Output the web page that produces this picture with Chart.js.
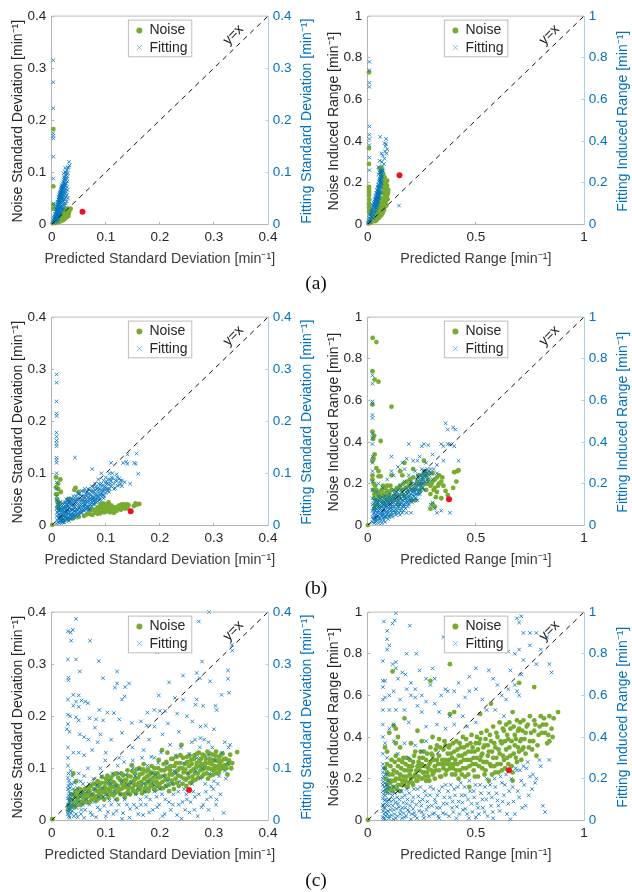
<!DOCTYPE html>
<html>
<head>
<meta charset="utf-8">
<script src="https://cdn.jsdelivr.net/npm/chart.js@4/dist/chart.umd.js"></script>
<style>
  body { margin: 0; background: #fff; }
  #page { position: relative; width: 632px; height: 892px; overflow: hidden; }
  canvas { position: absolute; }
  .caption { position: absolute; left: 0; width: 632px; text-align: center; font: 19.5px "Liberation Serif", serif; color: #111; }
</style>
</head>
<body>
<div id="page">
  <canvas id="c1" width="316" height="290" style="left:0;top:0"></canvas>
  <canvas id="c2" width="316" height="290" style="left:316px;top:0"></canvas>
  <canvas id="c3" width="316" height="290" style="left:0;top:301.4px"></canvas>
  <canvas id="c4" width="316" height="290" style="left:316px;top:301.4px"></canvas>
  <canvas id="c5" width="316" height="290" style="left:0;top:596.4px"></canvas>
  <canvas id="c6" width="316" height="290" style="left:316px;top:596.4px"></canvas>
  <div class="caption" style="top:272px">(a)</div>
  <div class="caption" style="top:577px">(b)</div>
  <div class="caption" style="top:869px">(c)</div>
</div>
<script>
/*******************
 * DATA
 ******************/
const sdTicks = [0, 0.1, 0.2, 0.3, 0.4];
const rangeXTicks = [0, 0.5, 1];
const rangeYTicks = [0, 0.2, 0.4, 0.6, 0.8, 1];

const redA1 = [[.057,.024]];
const redA2 = [[.147,.235]];
const redB1 = [[.146,.027]];
const redB2 = [[.376,.125]];
const redC1 = [[.254,.058]];
const redC2 = [[.653,.24]];

const noiseA1 = [[.003,.183],[.003,.073],[.003,.037],[.003,.03],[.002,.002],[.005,.004],[.006,.008],[.008,.003],[.009,.006],[.01,.011],[.011,.004],[.012,.008],[.013,.012],[.014,.005],[.015,.009],[.015,.015],[.016,.006],[.017,.012],[.018,.018],[.018,.007],[.019,.01],[.02,.015],[.02,.022],[.021,.008],[.022,.012],[.022,.019],[.023,.026],[.024,.01],[.024,.016],[.025,.022],[.026,.013],[.026,.028],[.027,.018],[.028,.024],[.028,.014],[.029,.03],[.03,.02],[.03,.026],[.031,.016],[.032,.022],[.033,.027],[.035,.03]];
const fitA1 = [[.003,.315],[.003,.273],[.003,.223],[.003,.175],[.003,.17],[.003,.165],[.003,.13],[.003,.088],[.003,.04],[.002,.004],[.003,.008],[.004,.003],[.004,.012],[.005,.007],[.005,.016],[.006,.01],[.006,.02],[.007,.006],[.007,.014],[.007,.025],[.008,.011],[.008,.019],[.008,.03],[.009,.015],[.009,.024],[.009,.034],[.01,.012],[.01,.02],[.01,.028],[.01,.038],[.011,.017],[.011,.026],[.011,.033],[.011,.043],[.012,.022],[.012,.03],[.012,.038],[.012,.047],[.013,.027],[.013,.035],[.013,.043],[.013,.052],[.014,.032],[.014,.04],[.014,.048],[.014,.056],[.015,.03],[.015,.037],[.015,.045],[.015,.053],[.015,.06],[.016,.042],[.016,.05],[.016,.058],[.016,.064],[.017,.046],[.017,.055],[.017,.062],[.017,.068],[.018,.05],[.018,.06],[.018,.066],[.018,.072],[.019,.055],[.019,.064],[.019,.07],[.02,.06],[.02,.068],[.02,.074],[.021,.065],[.021,.072],[.022,.07],[.021,.03],[.023,.04],[.022,.082],[.023,.09],[.022,.098],[.024,.088],[.025,.1],[.026,.085],[.027,.094],[.028,.088],[.028,.104],[.029,.092],[.03,.098],[.031,.11],[.032,.12],[.033,.113],[.03,.108],[.005,.012],[.006,.014],[.007,.019],[.008,.024],[.009,.029],[.01,.033],[.011,.038],[.012,.042],[.013,.047],[.014,.052],[.015,.056],[.016,.054],[.017,.05],[.017,.059],[.018,.055],[.019,.06],[.02,.065],[.019,.075],[.02,.07],[.021,.078],[.022,.075],[.023,.08],[.012,.018],[.013,.022],[.014,.027],[.016,.034],[.017,.04],[.018,.044],[.019,.048],[.02,.053],[.021,.058],[.022,.063],[.01,.008],[.008,.007],[.006,.005],[.024,.078],[.024,.092],[.026,.095],[.027,.1],[.025,.108],[.023,.085],[.012,.012],[.014,.016],[.016,.02],[.018,.024],[.02,.028],[.022,.032],[.024,.036],[.026,.04],[.028,.044],[.016,.028],[.018,.034],[.02,.038],[.022,.044],[.024,.048],[.026,.052],[.028,.056],[.03,.05],[.019,.042],[.021,.048],[.023,.054],[.025,.058],[.027,.062],[.029,.066],[.024,.064],[.026,.068],[.028,.072],[.025,.074],[.027,.078],[.029,.082],[.023,.07],[.015,.022],[.017,.03],[.013,.018],[.011,.01],[.009,.008]];

const noiseA2 = [[.006,.73],[.006,.365],[.006,.29],[.006,.18],[.006,.17],[.006,.16],[.006,.15],[.006,.14],[.006,.1],[.006,.08],[.006,.06],[.004,.004],[.012,.012],[.018,.01],[.022,.03],[.027,.018],[.03,.04],[.033,.026],[.036,.06],[.04,.036],[.042,.075],[.045,.05],[.047,.1],[.05,.03],[.05,.068],[.053,.09],[.055,.27],[.056,.125],[.058,.05],[.06,.075],[.062,.255],[.062,.105],[.065,.15],[.066,.06],[.068,.23],[.07,.09],[.072,.125],[.074,.2],[.076,.07],[.078,.16],[.08,.105],[.082,.135],[.083,.185],[.086,.09],[.088,.15],[.09,.21],[.092,.12],[.095,.165],[.078,.145],[.07,.18],[.035,.015],[.04,.02],[.045,.03],[.05,.045],[.055,.035],[.06,.055],[.064,.045],[.068,.07],[.07,.055],[.072,.08],[.074,.095],[.076,.115],[.078,.085],[.08,.13],[.082,.1],[.084,.155],[.085,.115],[.086,.175],[.088,.125],[.09,.14],[.09,.185],[.092,.16],[.094,.15],[.08,.195],[.075,.17],[.07,.215],[.066,.245],[.072,.24],[.078,.225],[.085,.2],[.06,.27],[.065,.265],[.007,.12],[.007,.09],[.009,.07],[.01,.05]];
const fitA2 = [[.008,.78],[.008,.74],[.008,.68],[.008,.66],[.008,.47],[.008,.43],[.008,.41],[.008,.38],[.008,.32],[.008,.26],[.145,.09],[.003,.006],[.006,.018],[.008,.03],[.01,.012],[.012,.045],[.014,.024],[.016,.06],[.018,.036],[.02,.075],[.022,.05],[.024,.09],[.025,.03],[.026,.065],[.028,.105],[.03,.045],[.03,.08],[.032,.12],[.034,.06],[.034,.095],[.036,.135],[.037,.08],[.038,.11],[.04,.15],[.04,.065],[.041,.095],[.042,.125],[.043,.165],[.044,.08],[.045,.11],[.045,.14],[.046,.18],[.047,.095],[.048,.125],[.048,.155],[.049,.19],[.05,.11],[.05,.14],[.051,.17],[.052,.205],[.053,.125],[.053,.155],[.054,.185],[.055,.22],[.056,.14],[.056,.2],[.058,.17],[.058,.235],[.06,.155],[.06,.21],[.062,.185],[.062,.25],[.064,.225],[.065,.3],[.068,.26],[.05,.275],[.055,.305],[.058,.42],[.063,.34],[.07,.33],[.072,.255],[.075,.29],[.078,.315],[.08,.35],[.082,.375],[.085,.385],[.085,.41],[.088,.34],[.09,.36],[.078,.39],[.005,.01],[.009,.02],[.012,.028],[.015,.04],[.018,.05],[.02,.06],[.022,.07],[.024,.07],[.026,.085],[.028,.09],[.03,.1],[.032,.095],[.033,.11],[.035,.12],[.036,.1],[.038,.13],[.039,.09],[.04,.12],[.041,.14],[.042,.105],[.043,.15],[.044,.13],[.045,.16],[.046,.12],[.047,.15],[.048,.175],[.049,.135],[.05,.16],[.051,.19],[.052,.145],[.053,.175],[.054,.21],[.055,.16],[.056,.185],[.057,.215],[.058,.2],[.059,.18],[.06,.23],[.06,.25],[.061,.195],[.062,.22],[.063,.24],[.065,.2],[.065,.255],[.067,.23],[.058,.26],[.054,.25],[.05,.24],[.068,.28]];

const noiseB1 = [[.001,.001],[.008,.092],[.016,.088],[.008,.073],[.012,.07],[.017,.064],[.008,.06],[.012,.044],[.016,.042],[.044,.072],[.042,.068],[.05,.064],[.03,.05],[.02,.01],[.03,.012],[.04,.014],[.05,.016],[.06,.018],[.065,.021],[.07,.022],[.075,.02],[.08,.024],[.085,.022],[.088,.027],[.09,.023],[.095,.03],[.097,.025],[.1,.032],[.103,.028],[.105,.036],[.108,.025],[.11,.031],[.113,.035],[.115,.024],[.118,.03],[.12,.034],[.123,.036],[.125,.032],[.128,.038],[.13,.04],[.132,.034],[.135,.04],[.138,.036],[.14,.033],[.142,.038],[.152,.037],[.155,.042],[.158,.04],[.162,.041],[.09,.04],[.095,.042],[.1,.04],[.105,.044],[.07,.028],[.075,.03],[.08,.03],[.085,.034],[.09,.034],[.095,.036],[.1,.026],[.102,.035],[.106,.03],[.11,.038],[.112,.028],[.116,.034],[.12,.028],[.125,.038],[.128,.03],[.133,.038],[.136,.032],[.14,.04],[.01,.05],[.011,.035],[.014,.03],[.012,.08],[.01,.06]];
const fitB1 = [[.009,.29],[.009,.274],[.009,.238],[.009,.215],[.009,.21],[.009,.178],[.009,.17],[.009,.163],[.009,.157],[.009,.152],[.009,.13],[.009,.125],[.009,.12],[.009,.1],[.009,.082],[.009,.07],[.009,.056],[.009,.048],[.01,.04],[.009,.032],[.01,.025],[.009,.018],[.01,.01],[.009,.003],[.012,.034],[.013,.022],[.014,.012],[.014,.004],[.016,.028],[.016,.038],[.018,.018],[.018,.008],[.019,.03],[.021,.024],[.021,.012],[.022,.04],[.023,.005],[.024,.032],[.025,.018],[.026,.01],[.026,.044],[.028,.026],[.028,.036],[.03,.015],[.03,.048],[.032,.008],[.032,.028],[.034,.04],[.034,.02],[.036,.052],[.036,.012],[.038,.03],[.04,.044],[.04,.02],[.042,.036],[.043,.13],[.044,.014],[.045,.026],[.046,.05],[.048,.04],[.05,.02],[.05,.06],[.052,.032],[.054,.046],[.055,.024],[.056,.056],[.058,.036],[.06,.028],[.06,.066],[.062,.046],[.064,.056],[.065,.036],[.067,.07],[.068,.03],[.07,.05],[.071,.06],[.072,.04],[.074,.075],[.075,.108],[.076,.05],[.078,.064],[.08,.04],[.08,.08],[.082,.056],[.084,.07],[.085,.046],[.086,.088],[.088,.06],[.09,.078],[.09,.05],[.092,.1],[.094,.07],[.095,.058],[.096,.086],[.098,.075],[.1,.092],[.1,.062],[.103,.08],[.105,.07],[.107,.1],[.108,.088],[.11,.075],[.11,.12],[.113,.09],[.115,.07],[.118,.086],[.12,.098],[.122,.076],[.125,.09],[.128,.08],[.13,.086],[.132,.12],[.135,.083],[.138,.122],[.14,.118],[.14,.136],[.145,.08],[.155,.118],[.153,.12],[.157,.138],[.16,.099],[.011,.006],[.012,.015],[.011,.025],[.012,.045],[.013,.03],[.013,.04],[.014,.02],[.015,.008],[.015,.033],[.016,.014],[.016,.045],[.017,.024],[.018,.036],[.019,.006],[.019,.014],[.02,.03],[.02,.042],[.021,.006],[.021,.018],[.022,.012],[.022,.028],[.023,.035],[.023,.021],[.024,.008],[.024,.044],[.025,.028],[.026,.016],[.026,.036],[.027,.022],[.027,.05],[.028,.012],[.028,.042],[.029,.03],[.03,.022],[.03,.037],[.031,.044],[.031,.014],[.032,.034],[.032,.052],[.033,.024],[.034,.012],[.034,.046],[.035,.03],[.036,.038],[.036,.02],[.037,.05],[.038,.014],[.038,.024],[.039,.042],[.04,.03],[.04,.056],[.041,.02],[.042,.048],[.043,.028],[.044,.04],[.044,.018],[.045,.056],[.046,.032],[.047,.022],[.047,.044],[.048,.062],[.049,.03],[.05,.038],[.05,.05],[.051,.024],[.052,.044],[.053,.058],[.054,.03],[.055,.04],[.056,.026],[.056,.066],[.057,.05],[.058,.03],[.059,.044],[.06,.036],[.06,.056],[.061,.07],[.062,.03],[.063,.04],[.064,.05],[.065,.064],[.066,.032],[.066,.044],[.068,.054],[.069,.038],[.07,.068],[.07,.03],[.072,.048],[.073,.058],[.074,.036],[.075,.044],[.076,.066],[.077,.04],[.078,.054],[.08,.048],[.08,.068],[.082,.044],[.083,.06],[.084,.05],[.086,.072],[.087,.054],[.088,.048],[.09,.066],[.092,.056],[.092,.08],[.094,.062],[.096,.052],[.098,.068],[.1,.08],[.102,.07],[.104,.088],[.106,.064],[.11,.085],[.112,.1],[.115,.08],[.12,.085],[.125,.078],[.13,.075],[.015,.018],[.017,.01],[.017,.034],[.02,.02],[.022,.034],[.024,.024],[.027,.014],[.029,.04],[.03,.03],[.031,.022],[.033,.034],[.033,.044],[.035,.016],[.035,.044],[.037,.03],[.039,.02],[.04,.038],[.041,.05],[.042,.026],[.043,.034],[.045,.02],[.045,.046],[.047,.03],[.048,.05],[.049,.024],[.051,.034],[.052,.052],[.053,.038],[.054,.024],[.055,.05],[.057,.038],[.058,.046],[.059,.03],[.061,.04],[.061,.052],[.063,.034],[.063,.06],[.065,.046],[.067,.036],[.067,.06],[.069,.046],[.071,.034],[.071,.052],[.073,.042],[.073,.066],[.075,.054],[.077,.048],[.077,.074],[.079,.044],[.079,.06],[.081,.05],[.082,.074],[.085,.056],[.085,.066],[.087,.08],[.089,.05],[.089,.07],[.091,.06],[.093,.076],[.095,.066],[.097,.056],[.099,.072],[.101,.084],[.103,.066],[.105,.078],[.107,.07],[.109,.08],[.111,.092],[.117,.072],[.121,.092],[.127,.086]];

const noiseB2 = [[.001,.001],[.023,.9],[.04,.88],[.022,.74],[.032,.7],[.05,.69],[.11,.57],[.022,.58],[.022,.45],[.03,.43],[.025,.415],[.06,.405],[.032,.34],[.027,.32],[.022,.31],[.04,.275],[.05,.26],[.022,.24],[.022,.22],[.028,.2],[.025,.17],[.05,.235],[.06,.235],[.035,.19],[.07,.19],[.045,.15],[.08,.155],[.09,.19],[.1,.16],[.11,.24],[.12,.14],[.135,.18],[.15,.26],[.16,.24],[.17,.3],[.19,.19],[.195,.22],[.21,.27],[.215,.17],[.23,.21],[.25,.24],[.26,.31],[.27,.17],[.28,.22],[.29,.15],[.295,.2],[.3,.25],[.31,.18],[.315,.135],[.32,.16],[.33,.2],[.34,.13],[.345,.23],[.36,.165],[.37,.145],[.395,.18],[.4,.255],[.41,.21],[.42,.265],[.415,.26],[.03,.13],[.04,.11],[.05,.09],[.06,.12],[.07,.14],[.08,.1],[.09,.14],[.12,.12],[.14,.1],[.16,.17],[.17,.14],[.2,.12],[.22,.12],[.24,.16],[.26,.2],[.27,.24],[.29,.08],[.3,.1],[.32,.23],[.31,.09],[.03,.08],[.03,.15],[.035,.1],[.04,.17],[.045,.12],[.05,.14],[.055,.16],[.06,.145],[.065,.17],[.07,.11],[.075,.15],[.08,.18],[.085,.13],[.09,.165],[.095,.12],[.1,.14],[.105,.19],[.11,.17],[.115,.125],[.125,.165],[.13,.15],[.14,.175],[.145,.13],[.15,.19],[.16,.15],[.165,.2],[.175,.18],[.18,.21],[.185,.16],[.2,.2],[.205,.17],[.21,.23],[.225,.19],[.235,.24],[.24,.2],[.25,.18],[.255,.22],[.265,.26],[.275,.2],[.285,.25],[.29,.19],[.3,.21],[.305,.17],[.31,.22],[.325,.19],[.33,.24],[.34,.21],[.35,.19]];
const fitB2 = [[.022,.72],[.022,.68],[.022,.595],[.022,.585],[.022,.53],[.022,.515],[.022,.44],[.022,.42],[.022,.39],[.022,.33],[.022,.3],[.022,.26],[.022,.21],[.022,.17],[.022,.13],[.022,.1],[.022,.07],[.022,.04],[.022,.015],[.03,.12],[.03,.09],[.03,.06],[.03,.03],[.03,.01],[.04,.12],[.04,.08],[.04,.05],[.04,.02],[.05,.14],[.05,.1],[.05,.07],[.05,.035],[.05,.01],[.06,.11],[.06,.08],[.06,.05],[.06,.02],[.07,.12],[.07,.09],[.07,.06],[.07,.035],[.08,.14],[.08,.105],[.08,.07],[.08,.04],[.08,.015],[.09,.12],[.09,.09],[.09,.055],[.1,.15],[.1,.11],[.1,.075],[.1,.04],[.11,.13],[.11,.09],[.11,.06],[.11,.33],[.12,.17],[.12,.11],[.12,.07],[.12,.24],[.13,.14],[.13,.1],[.13,.05],[.14,.17],[.14,.12],[.14,.08],[.15,.19],[.15,.14],[.15,.1],[.15,.05],[.16,.16],[.16,.12],[.16,.06],[.17,.21],[.17,.14],[.17,.09],[.18,.18],[.18,.13],[.18,.06],[.19,.39],[.19,.24],[.19,.16],[.19,.1],[.2,.21],[.2,.15],[.2,.06],[.21,.31],[.21,.18],[.21,.12],[.22,.26],[.22,.2],[.22,.15],[.23,.31],[.23,.24],[.23,.17],[.23,.12],[.24,.22],[.24,.15],[.25,.38],[.25,.27],[.25,.2],[.26,.39],[.26,.25],[.26,.17],[.27,.24],[.27,.3],[.28,.385],[.28,.21],[.29,.1],[.29,.27],[.3,.22],[.31,.08],[.32,.29],[.32,.25],[.34,.39],[.35,.38],[.35,.31],[.36,.49],[.37,.46],[.37,.39],[.38,.39],[.38,.06],[.395,.47],[.4,.38],[.405,.46],[.42,.31],[.025,.03],[.026,.055],[.027,.08],[.028,.105],[.035,.015],[.035,.045],[.035,.07],[.036,.095],[.037,.125],[.045,.025],[.045,.06],[.045,.085],[.046,.11],[.055,.035],[.055,.065],[.055,.095],[.056,.13],[.065,.01],[.065,.045],[.065,.075],[.066,.105],[.067,.135],[.075,.025],[.075,.055],[.075,.08],[.076,.11],[.085,.04],[.085,.065],[.085,.09],[.086,.125],[.095,.03],[.095,.06],[.095,.085],[.096,.105],[.097,.135],[.105,.05],[.105,.08],[.105,.1],[.106,.125],[.115,.04],[.115,.075],[.115,.105],[.116,.145],[.125,.06],[.125,.09],[.125,.125],[.126,.15],[.135,.07],[.135,.11],[.135,.13],[.136,.16],[.145,.06],[.145,.09],[.145,.115],[.146,.15],[.155,.08],[.155,.105],[.155,.13],[.156,.17],[.165,.07],[.165,.1],[.165,.12],[.166,.15],[.175,.08],[.175,.11],[.176,.13],[.177,.16],[.185,.09],[.185,.115],[.186,.14],[.187,.17],[.195,.12],[.195,.14],[.196,.18],[.205,.11],[.205,.13],[.206,.16],[.207,.19],[.215,.14],[.216,.16],[.217,.2],[.225,.13],[.226,.17],[.227,.22],[.235,.15],[.236,.19],[.237,.23],[.245,.17],[.246,.21],[.247,.24],[.255,.18],[.256,.23],[.257,.26],[.265,.21],[.266,.26],[.275,.22],[.276,.27],[.285,.24],[.295,.25],[.3,.11],[.305,.27],[.17,.27],[.14,.28],[.11,.26],[.16,.3],[.24,.33],[.3,.34],[.32,.06],[.34,.07],[.18,.32],[.07,.18],[.09,.22],[.05,.2],[.04,.16],[.033,.04],[.034,.085],[.038,.03],[.042,.065],[.043,.1],[.048,.045],[.052,.08],[.053,.115],[.058,.03],[.059,.06],[.063,.09],[.068,.05],[.072,.07],[.073,.1],[.078,.04],[.082,.085],[.083,.12],[.088,.05],[.092,.07],[.093,.105],[.098,.045],[.102,.09],[.103,.12],[.108,.07],[.112,.11],[.113,.05],[.118,.09],[.122,.13],[.128,.075],[.132,.12],[.133,.06],[.138,.09],[.142,.14],[.148,.1],[.152,.07],[.158,.12],[.162,.09],[.168,.14],[.172,.1],[.178,.12],[.182,.15],[.188,.105],[.192,.13],[.198,.17],[.202,.12],[.208,.145],[.212,.17],[.218,.13],[.222,.18],[.228,.15],[.232,.2],[.238,.17],[.242,.2],[.248,.19],[.252,.22],[.258,.2],[.262,.24],[.268,.23],[.272,.25],[.282,.26]];

const noiseC1 = [[.001,.002],[.04,.09],[.045,.075],[.03,.02],[.032,.03],[.034,.04],[.036,.05],[.038,.028],[.04,.036],[.042,.046],[.044,.056],[.046,.03],[.048,.042],[.05,.05],[.052,.06],[.054,.036],[.056,.046],[.058,.055],[.06,.04],[.062,.05],[.064,.062],[.066,.034],[.068,.046],[.07,.056],[.072,.066],[.074,.04],[.076,.05],[.078,.06],[.08,.07],[.082,.046],[.084,.056],[.086,.066],[.088,.05],[.09,.06],[.092,.072],[.094,.044],[.096,.054],[.098,.064],[.1,.08],[.102,.05],[.104,.06],[.106,.07],[.108,.056],[.11,.082],[.112,.064],[.114,.048],[.116,.072],[.118,.058],[.12,.09],[.122,.066],[.124,.054],[.126,.078],[.128,.06],[.13,.07],[.132,.086],[.134,.05],[.136,.064],[.138,.078],[.14,.096],[.142,.058],[.144,.07],[.146,.084],[.148,.106],[.15,.062],[.152,.076],[.154,.09],[.156,.052],[.158,.068],[.16,.082],[.162,.1],[.164,.06],[.166,.074],[.168,.09],[.17,.108],[.172,.056],[.174,.07],[.176,.084],[.178,.098],[.18,.062],[.182,.078],[.184,.092],[.186,.066],[.188,.082],[.19,.1],[.192,.058],[.194,.074],[.196,.09],[.198,.116],[.2,.07],[.202,.084],[.204,.135],[.206,.062],[.208,.096],[.21,.078],[.212,.112],[.214,.13],[.216,.068],[.218,.088],[.22,.104],[.222,.076],[.224,.118],[.226,.06],[.228,.092],[.23,.11],[.232,.072],[.234,.086],[.236,.1],[.238,.125],[.24,.145],[.242,.07],[.244,.092],[.246,.108],[.248,.078],[.25,.122],[.252,.09],[.254,.104],[.256,.072],[.258,.116],[.26,.084],[.262,.098],[.264,.125],[.266,.078],[.268,.11],[.27,.09],[.272,.13],[.274,.104],[.276,.118],[.278,.084],[.28,.098],[.282,.124],[.284,.11],[.286,.09],[.288,.132],[.29,.1],[.292,.118],[.294,.086],[.296,.108],[.298,.126],[.3,.096],[.302,.115],[.304,.132],[.306,.09],[.308,.104],[.31,.122],[.312,.098],[.314,.114],[.316,.128],[.318,.1],[.32,.106],[.322,.118],[.325,.088],[.328,.115],[.33,.126],[.334,.11],[.343,.131],[.033,.024],[.037,.038],[.041,.025],[.043,.052],[.047,.038],[.049,.058],[.053,.029],[.055,.054],[.059,.034],[.061,.06],[.063,.042],[.067,.052],[.069,.064],[.071,.036],[.073,.048],[.077,.07],[.079,.043],[.081,.058],[.083,.038],[.085,.075],[.087,.042],[.089,.07],[.091,.052],[.093,.083],[.095,.06],[.097,.04],[.099,.072],[.101,.058],[.103,.086],[.105,.044],[.107,.078],[.109,.064],[.111,.05],[.113,.074],[.115,.088],[.117,.052],[.119,.067],[.121,.04],[.123,.082],[.125,.06],[.127,.05],[.129,.09],[.131,.062],[.133,.076],[.135,.044],[.137,.07],[.139,.052],[.141,.086],[.143,.064],[.145,.05],[.147,.074],[.149,.094],[.151,.056],[.153,.068],[.155,.08],[.157,.098],[.159,.058],[.161,.072],[.163,.088],[.165,.066],[.167,.052],[.169,.098],[.171,.08],[.173,.062],[.175,.094],[.177,.074],[.179,.056],[.181,.088],[.183,.068],[.185,.104],[.187,.074],[.189,.06],[.191,.09],[.193,.082],[.195,.066],[.197,.1],[.199,.082],[.201,.062],[.203,.096],[.205,.074],[.207,.108],[.209,.086],[.211,.066],[.213,.1],[.215,.08],[.217,.056],[.219,.096],[.221,.118],[.223,.088],[.225,.07],[.227,.104],[.229,.08],[.231,.122],[.233,.096],[.235,.066],[.237,.11],[.239,.084],[.241,.1],[.243,.12],[.245,.08],[.247,.098],[.249,.066],[.251,.112],[.253,.082],[.255,.124],[.257,.094],[.259,.108],[.261,.076],[.263,.118],[.265,.09],[.267,.102],[.269,.128],[.271,.082],[.273,.114],[.275,.096],[.277,.108],[.279,.126],[.281,.088],[.283,.104],[.285,.118],[.287,.1],[.289,.08],[.291,.11],[.293,.128],[.295,.098],[.297,.116],[.299,.088],[.301,.104],[.303,.124],[.305,.1],[.307,.114],[.309,.092],[.311,.108],[.313,.126],[.315,.104],[.319,.118],[.323,.1],[.327,.108],[.332,.1]];
const fitC1 = [[.045,.387],[.03,.363],[.035,.361],[.039,.366],[.036,.345],[.071,.345],[.272,.382],[.291,.4],[.195,.323],[.333,.337],[.334,.326],[.03,.309],[.045,.309],[.087,.306],[.052,.286],[.121,.286],[.278,.305],[.031,.274],[.031,.269],[.095,.273],[.121,.263],[.117,.255],[.136,.256],[.143,.263],[.217,.265],[.243,.278],[.268,.283],[.274,.273],[.293,.267],[.326,.288],[.326,.272],[.328,.245],[.314,.241],[.03,.232],[.04,.241],[.05,.24],[.045,.228],[.055,.23],[.062,.228],[.067,.225],[.04,.22],[.05,.218],[.13,.232],[.135,.238],[.198,.24],[.228,.235],[.243,.232],[.266,.222],[.268,.232],[.28,.22],[.303,.22],[.305,.212],[.088,.212],[.103,.207],[.115,.206],[.177,.207],[.19,.212],[.2,.21],[.21,.21],[.232,.205],[.25,.2],[.03,.203],[.034,.2],[.045,.198],[.05,.192],[.07,.196],[.082,.194],[.095,.192],[.125,.194],[.148,.187],[.165,.19],[.176,.182],[.19,.18],[.215,.186],[.26,.19],[.275,.18],[.285,.182],[.3,.175],[.03,.185],[.028,.175],[.033,.17],[.052,.165],[.06,.16],[.068,.155],[.08,.178],[.085,.15],[.09,.165],[.11,.155],[.13,.168],[.16,.16],[.18,.155],[.205,.165],[.235,.17],[.265,.155],[.275,.158],[.29,.15],[.32,.15],[.327,.14],[.03,.14],[.04,.13],[.05,.13],[.06,.125],[.075,.135],[.1,.13],[.125,.12],[.15,.115],[.17,.135],[.19,.12],[.03,.12],[.03,.105],[.035,.095],[.03,.082],[.033,.07],[.03,.06],[.034,.05],[.03,.042],[.033,.035],[.03,.028],[.034,.02],[.03,.012],[.033,.005],[.038,.085],[.04,.06],[.042,.03],[.045,.012],[.05,.09],[.052,.045],[.055,.02],[.058,.07],[.06,.005],[.065,.055],[.07,.03],[.075,.01],[.08,.06],[.085,.025],[.09,.1],[.095,.045],[.1,.008],[.105,.075],[.11,.03],[.115,.055],[.12,.018],[.125,.09],[.13,.003],[.135,.04],[.14,.068],[.145,.022],[.15,.1],[.155,.05],[.16,.012],[.165,.03],[.17,.07],[.175,.045],[.18,.015],[.185,.09],[.19,.055],[.195,.025],[.2,.06],[.205,.008],[.21,.04],[.215,.075],[.22,.02],[.225,.05],[.23,.09],[.235,.03],[.24,.003],[.245,.06],[.25,.04],[.255,.015],[.26,.07],[.265,.045],[.27,.008],[.275,.08],[.28,.03],[.285,.055],[.29,.02],[.295,.065],[.3,.075],[.305,.04],[.31,.085],[.318,.014],[.32,.095],[.325,.11],[.031,.09],[.032,.076],[.031,.066],[.032,.055],[.031,.047],[.032,.038],[.031,.03],[.032,.022],[.031,.016],[.032,.008],[.034,.062],[.035,.043],[.035,.028],[.036,.014],[.037,.07],[.037,.04],[.038,.018],[.039,.05],[.04,.028],[.041,.008],[.042,.072],[.044,.044],[.046,.024],[.047,.062],[.048,.006],[.05,.035],[.053,.075],[.054,.012],[.056,.052],[.058,.03],[.06,.085],[.062,.02],[.064,.04],[.067,.1],[.069,.07],[.072,.015],[.074,.05],[.077,.08],[.079,.035],[.082,.006],[.084,.068],[.087,.045],[.089,.02],[.092,.085],[.094,.062],[.097,.028],[.099,.115],[.102,.05],[.104,.016],[.107,.038],[.109,.07],[.112,.09],[.114,.012],[.117,.04],[.119,.066],[.122,.105],[.124,.03],[.127,.05],[.129,.075],[.132,.014],[.134,.112],[.137,.088],[.139,.03],[.142,.05],[.144,.005],[.147,.072],[.149,.14],[.152,.03],[.154,.085],[.157,.024],[.159,.062],[.162,.098],[.164,.04],[.167,.12],[.169,.01],[.172,.055],[.174,.03],[.177,.105],[.179,.075],[.182,.04],[.184,.122],[.187,.02],[.189,.068],[.192,.088],[.194,.045],[.197,.11],[.199,.03],[.202,.13],[.204,.05],[.207,.085],[.209,.012],[.212,.065],[.214,.108],[.217,.035],[.219,.145],[.222,.07],[.224,.03],[.227,.095],[.229,.125],[.232,.01],[.234,.055],[.237,.075],[.239,.14],[.242,.035],[.244,.11],[.247,.02],[.249,.05],[.252,.09],[.254,.128],[.257,.035],[.259,.15],[.262,.055],[.264,.02],[.267,.095],[.269,.12],[.272,.05],[.274,.14],[.277,.025],[.279,.1],[.282,.155],[.284,.07],[.287,.04],[.289,.125],[.292,.09],[.294,.045],[.297,.14],[.299,.06],[.302,.115],[.304,.03],[.307,.07],[.312,.05],[.315,.13],[.322,.08],[.33,.145]];

const noiseC2 = [[.001,.002],[.115,.715],[.38,.75],[.29,.67],[.7,.66],[.77,.64],[.17,.49],[.12,.455],[.13,.44],[.1,.42],[.14,.4],[.23,.43],[.38,.51],[.4,.52],[.52,.51],[.57,.56],[.67,.52],[.08,.35],[.09,.33],[.13,.37],[.15,.35],[.2,.37],[.25,.38],[.3,.4],[.33,.39],[.36,.36],[.08,.25],[.085,.2],[.09,.17],[.09,.27],[.1,.15],[.1,.22],[.11,.19],[.11,.29],[.12,.16],[.12,.24],[.13,.2],[.13,.31],[.14,.17],[.14,.26],[.15,.14],[.15,.22],[.16,.19],[.16,.28],[.17,.17],[.17,.24],[.18,.21],[.18,.3],[.19,.18],[.19,.26],[.2,.2],[.2,.24],[.21,.28],[.21,.17],[.22,.22],[.22,.33],[.23,.19],[.23,.26],[.24,.24],[.24,.3],[.25,.2],[.25,.27],[.26,.23],[.26,.33],[.27,.19],[.27,.29],[.28,.25],[.28,.21],[.29,.28],[.29,.35],[.3,.22],[.3,.31],[.31,.26],[.31,.2],[.32,.29],[.32,.36],[.33,.24],[.33,.31],[.34,.27],[.34,.21],[.35,.34],[.35,.25],[.36,.29],[.36,.22],[.37,.32],[.37,.27],[.38,.25],[.38,.36],[.39,.3],[.39,.22],[.4,.33],[.4,.27],[.41,.38],[.41,.24],[.42,.31],[.42,.2],[.43,.28],[.43,.35],[.44,.25],[.44,.4],[.45,.32],[.45,.21],[.46,.29],[.46,.36],[.47,.26],[.47,.16],[.48,.33],[.48,.41],[.49,.24],[.49,.3],[.5,.37],[.5,.27],[.51,.34],[.51,.21],[.52,.29],[.52,.39],[.53,.25],[.53,.32],[.54,.36],[.54,.22],[.55,.28],[.55,.43],[.56,.33],[.56,.19],[.57,.26],[.57,.38],[.58,.3],[.58,.45],[.59,.23],[.59,.35],[.6,.4],[.6,.27],[.61,.47],[.61,.32],[.62,.24],[.62,.37],[.63,.43],[.63,.29],[.64,.34],[.64,.46],[.65,.39],[.65,.27],[.66,.31],[.66,.44],[.67,.19],[.67,.23],[.68,.36],[.68,.41],[.69,.28],[.69,.48],[.7,.33],[.7,.44],[.71,.39],[.71,.29],[.72,.48],[.72,.35],[.73,.42],[.73,.32],[.74,.46],[.75,.38],[.75,.5],[.76,.34],[.77,.43],[.77,.48],[.78,.31],[.79,.41],[.8,.5],[.81,.46],[.82,.42],[.83,.37],[.84,.5],[.84,.38],[.85,.44],[.86,.49],[.88,.52],[.085,.14],[.09,.23],[.095,.19],[.105,.18],[.105,.26],[.115,.14],[.115,.22],[.125,.19],[.125,.28],[.135,.15],[.135,.23],[.145,.2],[.145,.29],[.155,.17],[.155,.25],[.165,.21],[.165,.3],[.175,.19],[.175,.27],[.185,.16],[.185,.24],[.195,.22],[.195,.29],[.205,.18],[.205,.26],[.215,.21],[.215,.31],[.225,.24],[.225,.19],[.235,.28],[.235,.21],[.245,.26],[.245,.33],[.255,.23],[.255,.3],[.265,.26],[.265,.21],[.275,.32],[.275,.23],[.285,.27],[.285,.19],[.295,.24],[.295,.32],[.305,.29],[.305,.23],[.315,.34],[.315,.24],[.325,.27],[.335,.21],[.335,.35],[.345,.29],[.355,.27],[.355,.38],[.365,.24],[.375,.29],[.375,.35],[.385,.32],[.385,.27],[.395,.25],[.395,.37],[.405,.29],[.405,.22],[.415,.34],[.415,.27],[.425,.24],[.425,.37],[.435,.31],[.435,.22],[.445,.29],[.445,.35],[.455,.25],[.455,.39],[.465,.33],[.465,.22],[.475,.29],[.475,.37],[.485,.27],[.485,.35],[.495,.33],[.495,.21],[.505,.3],[.505,.4],[.515,.26],[.515,.37],[.525,.31],[.525,.42],[.535,.28],[.535,.35],[.545,.39],[.545,.24],[.555,.31],[.555,.36],[.565,.41],[.565,.27],[.575,.33],[.575,.22],[.585,.37],[.585,.26],[.595,.42],[.595,.3],[.605,.34],[.605,.23],[.615,.38],[.615,.27],[.625,.44],[.625,.31],[.635,.25],[.635,.38],[.645,.41],[.645,.3],[.655,.35],[.655,.47],[.665,.26],[.665,.38],[.675,.32],[.675,.45],[.685,.39],[.685,.3],[.695,.35],[.695,.43],[.705,.38],[.705,.47],[.715,.34],[.715,.43],[.725,.39],[.735,.45],[.745,.35],[.755,.42],[.765,.38],[.775,.46],[.785,.36],[.795,.45],[.805,.42],[.815,.49],[.825,.46],[.835,.41],[.855,.4]];
const fitC2 = [[.075,.955],[.125,.96],[.13,.995],[.115,.945],[.09,.87],[.1,.84],[.09,.82],[.195,.935],[.18,.8],[.225,.8],[.07,.765],[.13,.76],[.115,.75],[.13,.73],[.16,.71],[.175,.7],[.07,.67],[.08,.67],[.07,.64],[.18,.63],[.08,.59],[.2,.66],[.22,.63],[.2,.6],[.22,.59],[.25,.6],[.27,.57],[.29,.65],[.3,.73],[.31,.68],[.36,.63],[.37,.62],[.4,.62],[.45,.59],[.47,.62],[.5,.63],[.5,.73],[.56,.72],[.6,.65],[.62,.6],[.65,.63],[.68,.65],[.69,.62],[.7,.6],[.66,.72],[.72,.77],[.78,.75],[.84,.75],[.85,.71],[.8,.82],[.75,.84],[.7,.82],[.68,.8],[.65,.81],[.7,.95],[.69,.97],[.71,.98],[.72,.9],[.75,.9],[.78,.9],[.83,.88],[.35,.88],[.07,.53],[.1,.53],[.13,.53],[.17,.53],[.25,.52],[.33,.52],[.38,.5],[.44,.5],[.5,.47],[.55,.53],[.59,.53],[.63,.5],[.07,.46],[.1,.44],[.12,.46],[.19,.47],[.27,.45],[.32,.46],[.36,.44],[.4,.46],[.46,.45],[.07,.4],[.08,.37],[.12,.38],[.17,.37],[.22,.36],[.27,.38],[.07,.32],[.09,.3],[.14,.32],[.19,.3],[.25,.33],[.07,.27],[.08,.25],[.07,.23],[.09,.22],[.07,.2],[.08,.18],[.07,.17],[.09,.155],[.07,.14],[.08,.12],[.07,.105],[.09,.09],[.07,.075],[.08,.06],[.07,.045],[.09,.03],[.07,.015],[.08,.005],[.1,.13],[.1,.07],[.1,.02],[.12,.16],[.12,.1],[.12,.05],[.13,.01],[.14,.14],[.14,.08],[.15,.03],[.16,.11],[.16,.06],[.17,.015],[.18,.15],[.18,.08],[.19,.04],[.2,.005],[.21,.11],[.21,.055],[.22,.02],[.23,.15],[.24,.09],[.25,.04],[.26,.01],[.27,.12],[.28,.065],[.29,.16],[.3,.03],[.31,.1],[.32,.06],[.33,.14],[.33,.01],[.35,.08],[.36,.17],[.36,.03],[.38,.11],[.39,.06],[.4,.15],[.41,.01],[.42,.09],[.43,.18],[.44,.05],[.45,.12],[.46,.03],[.47,.19],[.48,.08],[.49,.14],[.5,.015],[.51,.06],[.52,.17],[.53,.1],[.54,.04],[.55,.2],[.56,.13],[.57,.07],[.58,.01],[.59,.16],[.6,.095],[.61,.045],[.62,.18],[.63,.12],[.64,.22],[.65,.08],[.66,.005],[.67,.16],[.68,.03],[.69,.24],[.7,.11],[.71,.19],[.72,.26],[.73,.07],[.74,.28],[.75,.21],[.76,.15],[.78,.2],[.8,.26],[.82,.04],[.84,.29],[.072,.25],[.074,.21],[.072,.185],[.076,.16],[.073,.125],[.077,.095],[.074,.06],[.076,.03],[.073,.008],[.082,.22],[.083,.15],[.084,.1],[.083,.04],[.085,.02],[.087,.17],[.088,.075],[.092,.13],[.094,.045],[.096,.19],[.097,.1],[.098,.01],[.104,.16],[.106,.05],[.108,.09],[.11,.025],[.114,.12],[.116,.07],[.118,.005],[.124,.03],[.126,.13],[.128,.085],[.134,.055],[.136,.11],[.138,.02],[.144,.065],[.146,.1],[.152,.045],[.156,.14],[.158,.01],[.164,.085],[.166,.035],[.172,.12],[.174,.06],[.178,.02],[.184,.1],[.186,.05],[.192,.13],[.196,.07],[.204,.03],[.206,.09],[.214,.15],[.216,.035],[.224,.075],[.228,.01],[.234,.115],[.238,.045],[.244,.16],[.248,.07],[.254,.1],[.258,.025],[.264,.14],[.272,.05],[.276,.09],[.284,.02],[.288,.12],[.296,.07],[.304,.15],[.308,.035],[.314,.085],[.322,.12],[.326,.02],[.334,.06],[.344,.16],[.348,.035],[.354,.11],[.366,.08],[.372,.14],[.376,.02],[.384,.17],[.392,.09],[.396,.04],[.404,.12],[.412,.065],[.416,.16],[.424,.03],[.434,.12],[.438,.085],[.448,.16],[.452,.055],[.464,.1],[.468,.01],[.474,.14],[.484,.04],[.492,.11],[.498,.17],[.506,.08],[.514,.03],[.524,.13],[.532,.06],[.542,.16],[.548,.1],[.554,.02],[.566,.17],[.574,.11],[.578,.04],[.586,.2],[.596,.13],[.604,.07],[.614,.21],[.624,.09],[.634,.17],[.644,.03],[.654,.14],[.664,.2],[.674,.09],[.684,.25],[.694,.14],[.704,.24],[.714,.06],[.724,.17],[.734,.25],[.744,.12],[.764,.22],[.774,.18],[.794,.29],[.81,.07],[.12,.62],[.15,.58],[.23,.55],[.31,.56],[.34,.6],[.42,.55],[.53,.58],[.64,.58],[.71,.7],[.58,.68],[.47,.69],[.42,.66],[.27,.68],[.24,.72],[.09,.91],[.14,.68],[.1,.6],[.07,.58]];

/*******************
 * CHART - AXIS TITLES, LEGEND BOX, y=x LABEL AND TOP FRAME LINE
 ******************/
function drawAxisTitle(ctx, text, x, y, rotation, font, colour) {
    ctx.save();
    ctx.translate(x, y);
    ctx.rotate(rotation);
    ctx.font = font;
    ctx.fillStyle = colour;
    ctx.textAlign = 'center';
    ctx.textBaseline = 'middle';
    ctx.fillText(text, 0, 0);
    ctx.restore();
}

const panelExtras = {
    id: 'panelExtras',
    afterDraw(chart, args, opts) {
        const ctx = chart.ctx;
        const area = chart.chartArea;
        const xs = chart.scales.x;
        const ys = chart.scales.y;
        const max = xs.max;
        const midX = (area.left + area.right) / 2;
        const midY = (area.top + area.bottom) / 2;

        ctx.save();
        ctx.strokeStyle = '#bdbdbd';
        ctx.lineWidth = 1;
        ctx.beginPath();
        ctx.moveTo(area.left, area.top);
        ctx.lineTo(area.right, area.top);
        ctx.stroke();

        // The scale's own title squeezes text to the axis length and turns the right one the wrong way
        drawAxisTitle(ctx, opts.xTitle, midX, area.bottom + 35, 0, '14.3px "Liberation Sans"', '#3c3c3c');
        drawAxisTitle(ctx, opts.yTitle, 18, midY + 1, -Math.PI / 2, '14px "Liberation Sans"', '#262626');
        drawAxisTitle(ctx, opts.y2Title, 307, midY + 1, -Math.PI / 2, '14px "Liberation Sans"', '#0072bd');

        // y=x label along the diagonal
        drawAxisTitle(ctx, 'y=x', xs.getPixelForValue(max * 0.84), ys.getPixelForValue(max * 0.91), -Math.PI / 4, '14px "Liberation Sans"', '#222');

        // legend
        const bx = area.left + 76.7;
        const by = area.top + 4;
        ctx.fillStyle = '#fff';
        ctx.fillRect(bx, by, 63.4, 36.7);
        ctx.strokeStyle = '#bdbdbd';
        ctx.strokeRect(bx, by, 63.4, 36.7);
        ctx.fillStyle = '#77ac30';
        ctx.beginPath();
        ctx.arc(bx + 11, by + 10.3, 3, 0, Math.PI * 2);
        ctx.fill();
        ctx.strokeStyle = '#5aa3d6';
        ctx.lineWidth = 0.7;
        ctx.beginPath();
        ctx.moveTo(bx + 8.5, by + 25);
        ctx.lineTo(bx + 13.5, by + 30);
        ctx.moveTo(bx + 13.5, by + 25);
        ctx.lineTo(bx + 8.5, by + 30);
        ctx.stroke();
        ctx.font = '14px "Liberation Sans"';
        ctx.fillStyle = '#262626';
        ctx.textAlign = 'left';
        ctx.textBaseline = 'middle';
        ctx.fillText('Noise', bx + 21, by + 10.5);
        ctx.fillText('Fitting', bx + 21, by + 28);
        ctx.restore();
    }
};

function toPoints(list) {
    return list.map(p => ({ x: p[0], y: p[1] }));
}

function forceTicks(values) {
    return scale => { scale.ticks = values.map(v => ({ value: v })); };
}

function createPanel(id, xTitle, yTitle, y2Title, max, xTicks, yTicks, noise, fitting, red) {
    const gray = '#b4b4b4';
    const lightBlue = '#a9cfe8';
    const dark = '#262626';
    const blue = '#0072bd';
    const tickFont = { family: '"Liberation Sans"', size: 13.5 };

    new Chart(document.getElementById(id), {
        type: 'scatter',
        data: {
            datasets: [
                { data: toPoints(red), yAxisID: 'y', backgroundColor: '#ee1122', borderWidth: 0, pointRadius: 3, clip: false },
                { type: 'line', data: [{ x: 0, y: 0 }, { x: max, y: max }], yAxisID: 'y', borderColor: '#111', borderWidth: 1, borderDash: [5, 4.5], pointRadius: 0 },
                { data: toPoints(fitting), yAxisID: 'y2', pointStyle: 'crossRot', borderColor: 'rgba(0,114,189,0.85)', borderWidth: 0.95, pointRadius: 2.5, clip: false },
                { data: toPoints(noise), yAxisID: 'y', backgroundColor: '#77ac30', borderWidth: 0, pointRadius: 2.4, clip: false },
            ],
        },
        options: {
            responsive: false,
            animation: false,
            devicePixelRatio: 1,
            layout: { padding: { top: 14.3 } },
            plugins: {
                legend: { display: false },
                tooltip: { enabled: false },
                panelExtras: { xTitle: xTitle, yTitle: yTitle, y2Title: y2Title },
            },
            scales: {
                x: {
                    type: 'linear', min: 0, max: max,
                    afterFit: s => { s.height = 65.7; },
                    afterBuildTicks: forceTicks(xTicks),
                    border: { color: gray },
                    grid: { drawOnChartArea: false, color: gray, tickLength: -2.5 },
                    ticks: { color: dark, font: tickFont, padding: 7, maxRotation: 0, autoSkip: false, callback: v => String(v) },
                },
                y: {
                    type: 'linear', min: 0, max: max, position: 'left',
                    afterFit: s => { s.width = 51.7; },
                    afterBuildTicks: forceTicks(yTicks),
                    border: { color: gray },
                    grid: { drawOnChartArea: false, color: gray, tickLength: -2.5 },
                    ticks: { color: dark, font: tickFont, padding: 8, autoSkip: false, callback: v => String(v) },
                },
                y2: {
                    type: 'linear', min: 0, max: max, position: 'right',
                    afterFit: s => { s.width = 48; },
                    afterBuildTicks: forceTicks(yTicks),
                    border: { color: lightBlue },
                    grid: { drawOnChartArea: false, color: lightBlue, tickLength: -2.5 },
                    ticks: { color: blue, font: tickFont, padding: 7.2, autoSkip: false, callback: v => String(v) },
                },
            },
        },
        plugins: [panelExtras],
    });
}

const sdX = 'Predicted Standard Deviation [min⁻¹]';
const sdY = 'Noise Standard Deviation [min⁻¹]';
const sdY2 = 'Fitting Standard Deviation [min⁻¹]';
const rangeX = 'Predicted Range [min⁻¹]';
const rangeY = 'Noise Induced Range [min⁻¹]';
const rangeY2 = 'Fitting Induced Range [min⁻¹]';

createPanel('c1', sdX, sdY, sdY2, 0.4, sdTicks, sdTicks, noiseA1, fitA1, redA1);
createPanel('c2', rangeX, rangeY, rangeY2, 1, rangeXTicks, rangeYTicks, noiseA2, fitA2, redA2);
createPanel('c3', sdX, sdY, sdY2, 0.4, sdTicks, sdTicks, noiseB1, fitB1, redB1);
createPanel('c4', rangeX, rangeY, rangeY2, 1, rangeXTicks, rangeYTicks, noiseB2, fitB2, redB2);
createPanel('c5', sdX, sdY, sdY2, 0.4, sdTicks, sdTicks, noiseC1, fitC1, redC1);
createPanel('c6', rangeX, rangeY, rangeY2, 1, rangeXTicks, rangeYTicks, noiseC2, fitC2, redC2);
</script>
</body>
</html>
